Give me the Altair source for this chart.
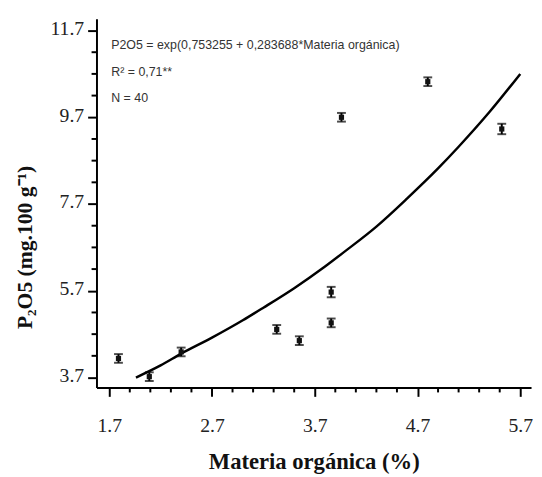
import altair as alt
import pandas as pd

# Data points (Materia orgánica %, P2O5 mg/100 g, half error bar)
mo = [1.79, 2.09, 2.40, 3.33, 3.55, 3.86, 3.86, 3.96, 4.80, 5.52]
p2o5 = [4.14, 3.72, 4.29, 4.81, 4.55, 4.96, 5.67, 9.70, 10.52, 9.43]
err = [0.10, 0.10, 0.10, 0.10, 0.10, 0.10, 0.12, 0.10, 0.10, 0.12]

# Fitted curve
curve_x = [1.96, 2.2, 2.4, 2.7, 3.0, 3.2, 3.5, 3.8, 4.0, 4.3, 4.6, 4.9, 5.1, 5.4, 5.7]
curve_y = [3.70, 3.98, 4.25, 4.62, 5.02, 5.31, 5.76, 6.26, 6.62, 7.18, 7.83, 8.52, 9.02, 9.82, 10.70]

x_major = [1.7, 2.7, 3.7, 4.7, 5.7]
x_minor = [1.9, 2.1, 2.3, 2.5, 2.9, 3.1, 3.3, 3.5, 3.9, 4.1, 4.3, 4.5,
           4.9, 5.1, 5.3, 5.5]
y_major = [3.7, 5.7, 7.7, 9.7, 11.7]
y_minor = [4.2, 4.7, 5.2, 6.2, 6.7, 7.2, 8.2, 8.7, 9.2, 10.2, 10.7, 11.2]

ann_lines = ["P2O5 = exp(0,753255 + 0,283688*Materia orgánica)",
             "R² = 0,71**",
             "N = 40"]

pts = pd.DataFrame({"x": mo, "y": p2o5, "e": err})
cur = pd.DataFrame({"x": curve_x, "y": curve_y})
xm = pd.DataFrame({"v": x_minor})
ym = pd.DataFrame({"v": y_minor})

x_dom = [1.576, 5.805]
y_dom = [3.47, 11.97]
xs = alt.Scale(domain=x_dom, nice=False, zero=False)
ys = alt.Scale(domain=y_dom, nice=False, zero=False)

serif = "Liberation Serif"

x_axis = alt.Axis(
    values=x_major, format=".1f", labelOverlap=False, tickSize=9,
    labelFont=serif, labelFontSize=20, labelBaseline="middle", labelPadding=30,
    labelColor="#222",
    title="Materia orgánica (%)", titleFont=serif, titleFontSize=23,
    titleFontWeight="bold", titleColor="#111", titleBaseline="alphabetic", titleY=82,
)
y_axis = alt.Axis(
    values=y_major, format=".1f", labelOverlap=False, tickSize=9,
    labelFont=serif, labelFontSize=20, labelPadding=4, labelColor="#222",
    labelOffset=-2,
    title="P₂O5 (mg.100 g⁻¹)", titleFont=serif, titleFontSize=22,
    titleFontWeight="bold", titleColor="#111", titleBaseline="alphabetic",
    titleX=-66, titleY=232,
)


def X(field):
    return alt.X(field, scale=xs, axis=x_axis)


def Y(field):
    return alt.Y(field, scale=ys, axis=y_axis)


base = alt.Chart(pts).transform_calculate(lo="datum.y - datum.e", hi="datum.y + datum.e")

bars = base.mark_rule(color="black", strokeWidth=2).encode(
    x=X("x:Q"), y=Y("lo:Q"), y2="hi:Q")
cap_lo = base.mark_tick(color="black", orient="horizontal", size=9, thickness=2).encode(
    x=X("x:Q"), y=Y("lo:Q"))
cap_hi = base.mark_tick(color="black", orient="horizontal", size=9, thickness=2).encode(
    x=X("x:Q"), y=Y("hi:Q"))
dots = base.mark_square(color="#111", size=28, opacity=1).encode(x=X("x:Q"), y=Y("y:Q"))

line = alt.Chart(cur).mark_line(color="black", strokeWidth=2.5, interpolate="monotone").encode(
    x=X("x:Q"), y=Y("y:Q"))

xminor = alt.Chart(xm).mark_rule(color="black", strokeWidth=2).encode(
    x=X("v:Q"), y=alt.value(375), y2=alt.value(380))
yminor = alt.Chart(ym).mark_rule(color="black", strokeWidth=2).encode(
    y=Y("v:Q"), x=alt.value(0), x2=alt.value(-5))

ann = pd.DataFrame({"t": ann_lines, "row": [0, 1, 2]})
text = alt.Chart(ann).transform_calculate(py="27 + datum.row * 27").mark_text(
    align="left", baseline="middle", font="Liberation Sans",
    fontSize=12.6, color="#333").encode(
    x=alt.value(15), y=alt.Y("py:Q", scale=None), text="t:N")

chart = alt.layer(bars, line, cap_lo, cap_hi, dots, xminor, yminor, text).properties(
    width=442, height=375,
    autosize=alt.AutoSizeParams(type="none"),
    padding={"left": 90, "top": 7, "right": 3, "bottom": 85},
).configure_view(stroke=None).configure_axis(
    grid=False, domainColor="black", domainWidth=2, tickColor="black", tickWidth=2,
)

chart.save("out.html", embed_options={"renderer": "svg", "actions": False})
